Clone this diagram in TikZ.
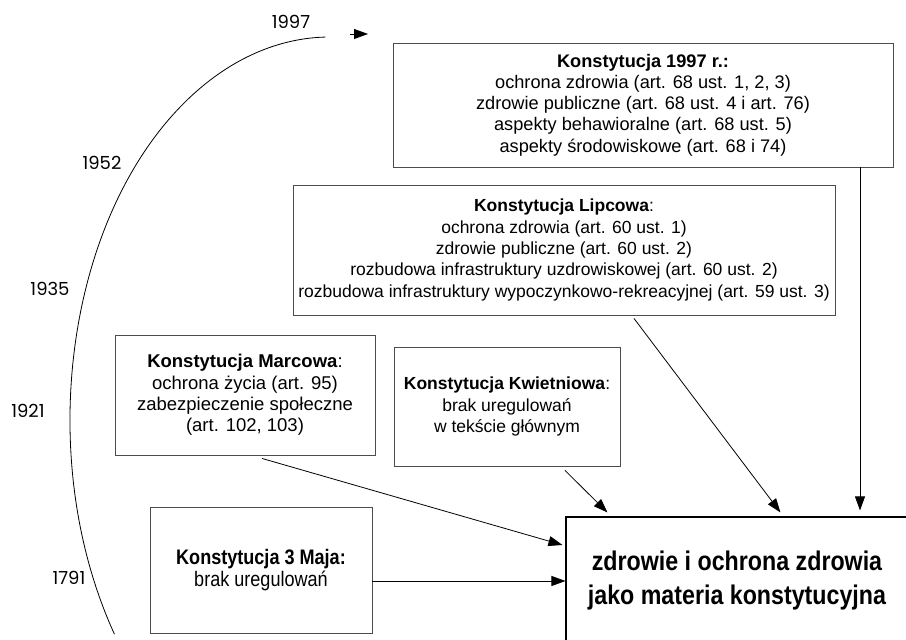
\documentclass[tikz,border=0pt]{standalone}
\usepackage{fontspec}
\setmainfont{Liberation Sans}
\newfontfamily\narrowfont[FakeStretch=0.86]{Liberation Sans}
\newfontfamily\yearfont{Poppins}
\usetikzlibrary{arrows.meta,calc}
\tikzstyle{box} = [draw=black!70,line width=0.9pt,rectangle,inner sep=0,align=center,font=\fontsize{17.5}{21.3}\selectfont]
\tikzstyle{goal} = [draw,line width=1.1pt,rectangle,inner sep=0,align=center,font=\narrowfont\bfseries\fontsize{27}{34}\selectfont]
\tikzstyle{conn} = [-{Triangle[length=14pt,width=10pt]},line width=0.8pt]
\tikzstyle{year} = [font=\yearfont\fontsize{18}{18}\selectfont]
\def \rx {260}
\def \ry {383}

\begin{document}
\begin{tikzpicture}[x=1pt,y=1pt]
  \useasboundingbox (0,0) rectangle (906,640);
  % constitutions
  \node[box,minimum width=500,minimum height=124,font=\fontsize{18.2}{21.3}\selectfont] (k1997) at (643,535) {\textbf{Konstytucja 1997 r.:}\\
    ochrona zdrowia (art. 68 ust. 1, 2, 3)\\
    zdrowie publiczne (art. 68 ust. 4 i art. 76)\\
    aspekty behawioralne (art. 68 ust. 5)\\
    aspekty środowiskowe (art. 68 i 74)};
  \node[box,minimum width=542,minimum height=130] (lipcowa) at (564,390) {\textbf{Konstytucja Lipcowa}:\\
    ochrona zdrowia (art. 60 ust. 1)\\
    zdrowie publiczne (art. 60 ust. 2)\\
    rozbudowa infrastruktury uzdrowiskowej (art. 60 ust. 2)\\
    rozbudowa infrastruktury wypoczynkowo-rekreacyjnej (art. 59 ust. 3)};
  \node[box,minimum width=260,minimum height=120,font=\fontsize{18.5}{21.3}\selectfont] (marcowa) at (245,245) {\textbf{Konstytucja Marcowa}:\\
    ochrona życia (art. 95)\\
    zabezpieczenie społeczne\\
    (art. 102, 103)};
  \node[box,minimum width=226,minimum height=119] (kwietniowa) at (507,233.5) {\textbf{Konstytucja Kwietniowa}:\\
    brak uregulowań\\
    w tekście głównym};
  \node[box,minimum width=222,minimum height=126,font=\narrowfont\fontsize{21}{22}\selectfont] (maja) at (261,70) {\textbf{Konstytucja 3 Maja:}\\
    brak uregulowań};
  \node[goal,minimum width=342,minimum height=128] (main) at (737,59) {zdrowie i ochrona zdrowia\\ jako materia konstytucyjna};

  % timeline
  \draw[line width=0.8pt] (330,220) ++(214:\rx\space and \ry) arc[start angle=214,end angle=91,x radius=\rx,y radius=\ry];
  \coordinate (t0) at (350,606);
  \coordinate (t1) at (368,606);
  \draw[conn] (t0) -- (t1);
  \node[year] (y1997) at (291,618) {1997};
  \node[year] (y1952) at (102,477) {1952};
  \node[year] (y1935) at (50,351) {1935};
  \node[year] (y1921) at (28,229) {1921};
  \node[year] (y1791) at (69,62) {1791};

  % connectors
  \coordinate (s1) at ([shift={(17,-3)}]marcowa.south);
  \coordinate (e1) at ([shift={(-3,36)}]main.west);
  \draw[conn] (s1) -- (e1);
  \draw[conn] (maja.east |- main.west) -- (main.west);
  \coordinate (s2) at ([shift={(58,-4)}]kwietniowa.south);
  \coordinate (e2) at ([shift={(42,4)}]main.north west);
  \draw[conn] (s2) -- (e2);
  \coordinate (s3) at ([shift={(70,-3)}]lipcowa.south);
  \coordinate (e3) at ([shift={(215,4)}]main.north west);
  \draw[conn] (s3) -- (e3);
  \coordinate (s4) at ([xshift=217]k1997.south);
  \coordinate (e4) at ([yshift=6]main.north);
  \draw[conn] (s4) -- (s4 |- e4);
\end{tikzpicture}
\end{document}
